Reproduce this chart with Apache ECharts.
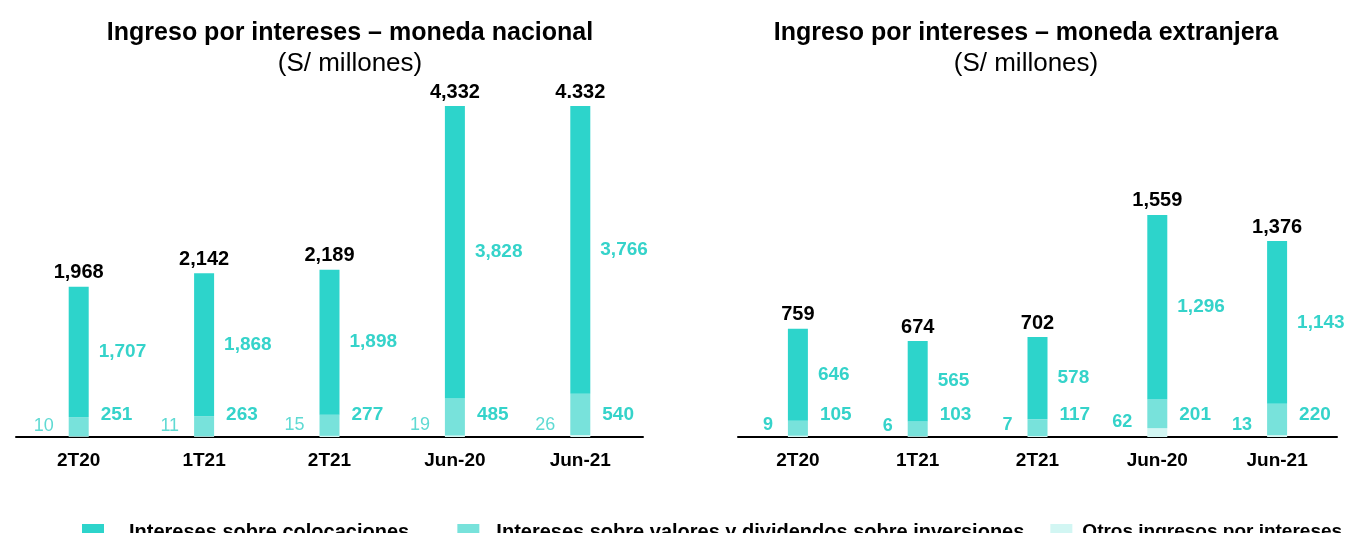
<!DOCTYPE html>
<html>
	<head>
		<meta charset="utf-8">
		<title></title>
		<script src="https://cdn.jsdelivr.net/npm/echarts@6/dist/echarts.min.js"></script>
		<style>
			html, body { margin: 0; padding: 0; background: #ffffff; }
			#main { width: 1349px; height: 533px; }
		</style>
	</head>
	<body>
		<div id="main"></div>
	</body>
	<script>
		var categories = ["2T20", "1T21", "2T21", "Jun-20", "Jun-21"];
		// moneda nacional
		var mnOtros = [10, 11, 15, 19, 26];
		var mnValores = [251, 263, 277, 485, 540];
		var mnColoc = [1707, 1868, 1898, 3828, 3766];
		var mnTotales = ["1,968", "2,142", "2,189", "4,332", "4.332"];
		// moneda extranjera
		var meOtros = [9, 6, 7, 62, 13];
		var meValores = [105, 103, 117, 201, 220];
		var meColoc = [646, 565, 578, 1296, 1143];
		var meTotales = ["759", "674", "702", "1,559", "1,376"];

		var cColoc = "#2dd4cb";
		var cValores = "#78e2db";
		var cOtros = "#d2f6f3";
		var cLabel = "#35d3ca";
		var font = "Liberation Sans, Arial, sans-serif";

		function fmt(v) {
			return v.toLocaleString("en-US");
		}

		function zeros() {
			return categories.map(function () { return 0; });
		}

		function makeSeries(idx, otros, valores, coloc, totales, otrosBold) {
			var stack = "s" + idx;
			return [{
				// base invisible: lleva la etiqueta de valores a altura fija sobre el eje
				name: "base" + idx,
				type: "bar", stack: stack, xAxisIndex: idx, yAxisIndex: idx,
				barWidth: 20,
				itemStyle: { color: "transparent" },
				label: {
					show: true, position: "right", distance: 12, offset: [0, -22],
					color: cLabel, fontWeight: "bold", fontSize: 19, fontFamily: font,
					formatter: function (p) { return fmt(valores[p.dataIndex]); }
				},
				data: zeros()
			}, {
				name: "Otros ingresos por intereses",
				type: "bar", stack: stack, xAxisIndex: idx, yAxisIndex: idx,
				itemStyle: { color: cOtros },
				label: {
					show: true, position: "left", distance: 15, offset: [0, -11],
					color: otrosBold ? cLabel : "#5fdad3",
					fontWeight: otrosBold ? "bold" : "normal",
					fontSize: 18, fontFamily: font,
					formatter: function (p) { return fmt(p.value); }
				},
				data: otros
			}, {
				name: "Intereses sobre valores y dividendos sobre inversiones",
				type: "bar", stack: stack, xAxisIndex: idx, yAxisIndex: idx,
				itemStyle: { color: cValores },
				data: valores
			}, {
				name: "Intereses sobre colocaciones",
				type: "bar", stack: stack, xAxisIndex: idx, yAxisIndex: idx,
				itemStyle: { color: cColoc },
				label: {
					show: true, position: "right", distance: 10,
					color: cLabel, fontWeight: "bold", fontSize: 19, fontFamily: font,
					formatter: function (p) { return fmt(p.value); }
				},
				data: coloc
			}, {
				name: "total" + idx,
				type: "bar", stack: stack, xAxisIndex: idx, yAxisIndex: idx,
				itemStyle: { color: "transparent" },
				label: {
					show: true, position: "top", distance: 4,
					color: "#000000", fontWeight: "bold", fontSize: 20, fontFamily: font,
					formatter: function (p) { return totales[p.dataIndex]; }
				},
				data: zeros()
			}];
		}

		var xAxisStyle = {
			type: "category",
			data: categories,
			axisLine: { lineStyle: { color: "#000000", width: 2 } },
			axisTick: { show: false },
			axisLabel: { color: "#000000", fontWeight: "bold", fontSize: 19, fontFamily: font, margin: 14 }
		};

		var titleStyle = { fontSize: 25, fontWeight: "bold", color: "#000000", fontFamily: font };
		var subStyle = { fontSize: 26, color: "#000000", fontFamily: font };

		var option = {
			animation: false,
			textStyle: { fontFamily: font },
			title: [{
				text: "Ingreso por intereses – moneda nacional",
				subtext: "(S/ millones)",
				left: 345, top: 16, textAlign: "center", itemGap: 5,
				textStyle: titleStyle, subtextStyle: subStyle
			}, {
				text: "Ingreso por intereses – moneda extranjera",
				subtext: "(S/ millones)",
				left: 1021, top: 16, textAlign: "center", itemGap: 5,
				textStyle: titleStyle, subtextStyle: subStyle
			}],
			legend: {
				data: [
					{ name: "Intereses sobre colocaciones", textStyle: { padding: [0, 0, 0, 20] } },
					{ name: "Intereses sobre valores y dividendos sobre inversiones", textStyle: { padding: [0, 0, 0, 12] } },
					{ name: "Otros ingresos por intereses", textStyle: { padding: [0, 0, 0, 5], fontSize: 19 } }
				],
				formatter: function (name) {
					return name === "Intereses sobre colocaciones" ? name + "    " : name;
				},
				left: 77, top: 517, width: 1500, itemWidth: 22, itemHeight: 16, itemGap: 26,
				icon: "rect",
				textStyle: { fontSize: 20, fontWeight: "bold", color: "#000000", fontFamily: font }
			},
			grid: [
				{ left: 16, width: 627, top: 106, bottom: 96 },
				{ left: 738, width: 599, top: 106, bottom: 96 }
			],
			xAxis: [
				Object.assign({ gridIndex: 0 }, xAxisStyle),
				Object.assign({ gridIndex: 1 }, xAxisStyle)
			],
			yAxis: [
				{ gridIndex: 0, type: "value", min: 0, max: 4332, show: false, splitLine: { show: false } },
				{ gridIndex: 1, type: "value", min: 0, max: 2324, show: false, splitLine: { show: false } }
			],
			series: makeSeries(0, mnOtros, mnValores, mnColoc, mnTotales, false)
				.concat(makeSeries(1, meOtros, meValores, meColoc, meTotales, true))
		};

		var chart = echarts.init(document.getElementById("main"));
		chart.setOption(option);
	</script>
</html>
